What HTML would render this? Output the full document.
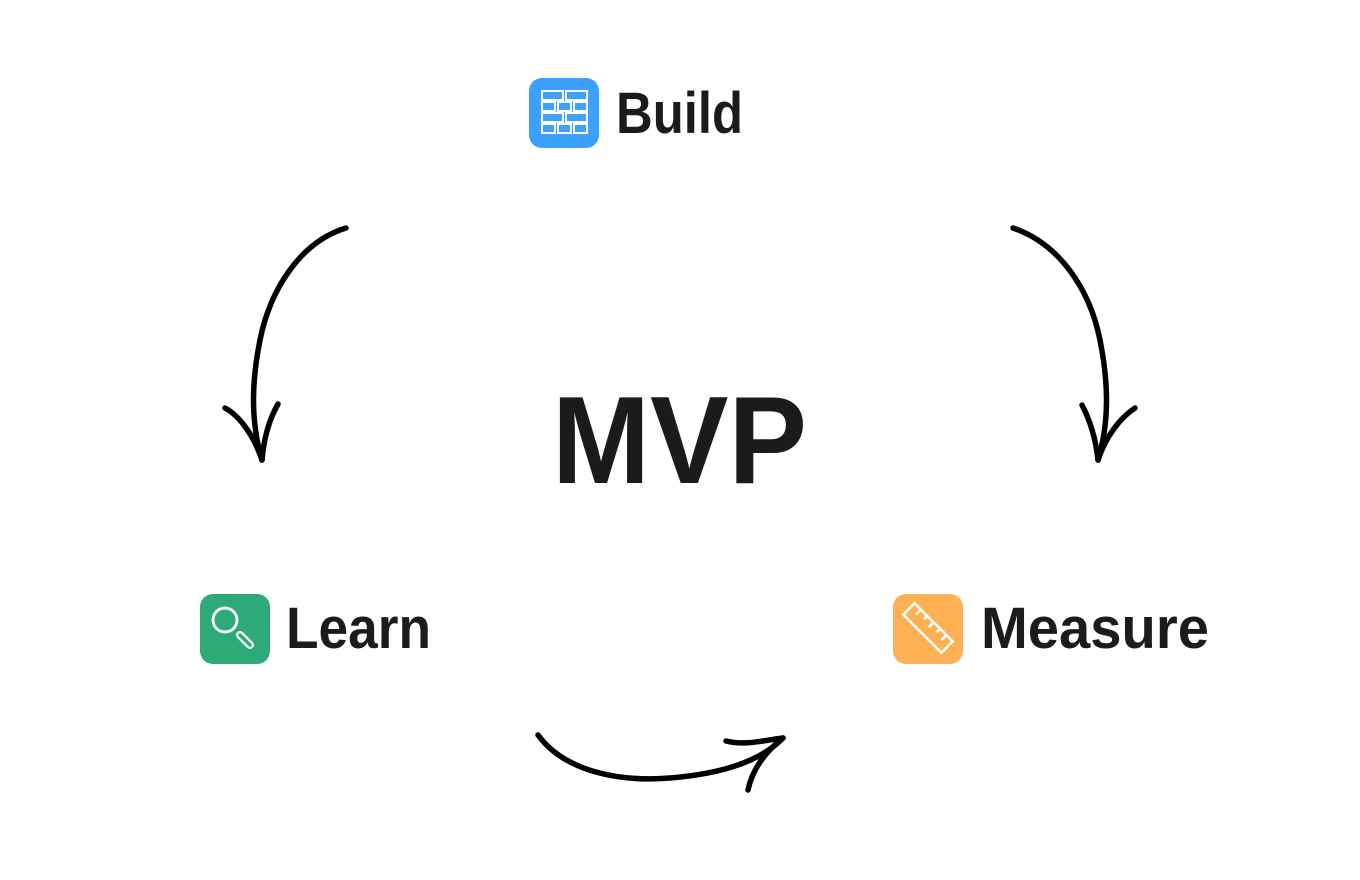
<!DOCTYPE html>
<html>
<head>
<meta charset="utf-8">
<style>
  html,body{margin:0;padding:0;background:#fff;}
  svg{display:block;}
  text{font-family:"Liberation Sans",Arial,sans-serif;font-weight:bold;fill:#1b1b1b;}
</style>
</head>
<body>
<svg width="1360" height="880" viewBox="0 0 1360 880" xmlns="http://www.w3.org/2000/svg">
  <rect width="1360" height="880" fill="#fff"/>

  <!-- Build icon -->
  <rect x="529" y="78" width="70" height="70" rx="13" fill="#3ca0ff"/>
  <g fill="none" stroke="#fff" stroke-width="2">
    <rect x="542" y="91" width="21" height="9"/>
    <rect x="566" y="91" width="21" height="9"/>
    <rect x="542" y="102" width="13" height="9"/>
    <rect x="558" y="102" width="13" height="9"/>
    <rect x="574" y="102" width="13" height="9"/>
    <rect x="542" y="113" width="21" height="9"/>
    <rect x="566" y="113" width="21" height="9"/>
    <rect x="542" y="124" width="13" height="9"/>
    <rect x="558" y="124" width="13" height="9"/>
    <rect x="574" y="124" width="13" height="9"/>
  </g>
  <text x="616" y="133" font-size="58" textLength="127" lengthAdjust="spacingAndGlyphs">Build</text>

  <!-- Learn icon -->
  <rect x="200" y="594" width="70" height="70" rx="13" fill="#2eaa78"/>
  <circle cx="225" cy="620" r="12" fill="none" stroke="#fff" stroke-width="2.8"/>
  <line x1="240" y1="635" x2="250" y2="645" stroke="#fff" stroke-width="8" stroke-linecap="round"/>
  <line x1="240" y1="635" x2="250" y2="645" stroke="#2eaa78" stroke-width="3.5" stroke-linecap="round"/>
  <text x="286" y="648" font-size="58" textLength="145" lengthAdjust="spacingAndGlyphs">Learn</text>

  <!-- Measure icon -->
  <rect x="893" y="594" width="70" height="70" rx="13" fill="#ffb052"/>
  <g transform="translate(928,628) rotate(45)" fill="none" stroke="#fff" stroke-width="2.5">
    <rect x="-27" y="-8" width="54" height="16"/>
    <line x1="-18" y1="-8" x2="-18" y2="-1"/>
    <line x1="-9" y1="-8" x2="-9" y2="-3"/>
    <line x1="0" y1="-8" x2="0" y2="-1"/>
    <line x1="9" y1="-8" x2="9" y2="-3"/>
    <line x1="18" y1="-8" x2="18" y2="-1"/>
  </g>
  <text x="981" y="648" font-size="58" textLength="228" lengthAdjust="spacingAndGlyphs">Measure</text>

  <!-- MVP -->
  <text x="552" y="483" font-size="124" textLength="255" lengthAdjust="spacingAndGlyphs">MVP</text>

  <!-- Arrows -->
  <g fill="none" stroke="#000" stroke-width="5.5" stroke-linecap="round" stroke-linejoin="round">
    <!-- left arrow -->
    <path d="M346,228 C300,242 270,290 260,340 C252,380 250,420 262,460"/>
    <path d="M225,408 C240,416 254,436 262,460"/>
    <path d="M278,404 C270,418 264,436 262,460"/>
    <!-- right arrow -->
    <path d="M1013,228 C1060,244 1090,290 1100,340 C1108,380 1110,420 1098,460"/>
    <path d="M1082,405 C1090,420 1096,440 1098,460"/>
    <path d="M1135,408 C1120,418 1106,436 1098,460"/>
    <!-- bottom arrow -->
    <path d="M538,735 C565,772 620,782 670,778 C720,774 760,762 783,738"/>
    <path d="M726,741 C745,746 765,740 783,738"/>
    <path d="M748,790 C752,770 765,752 783,738"/>
  </g>
</svg>
</body>
</html>
